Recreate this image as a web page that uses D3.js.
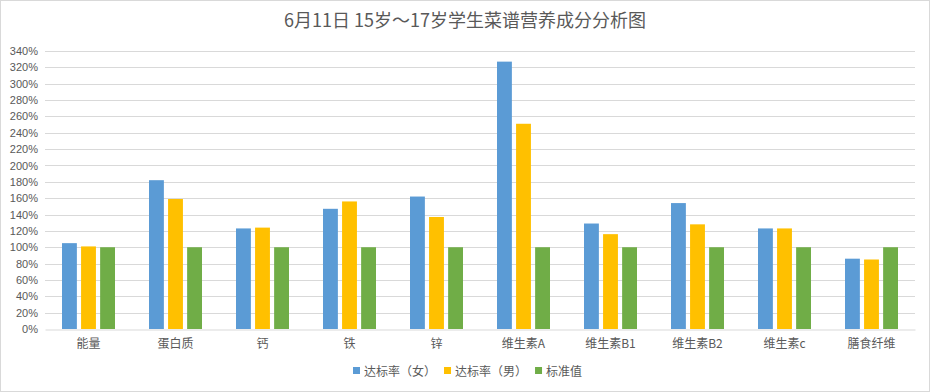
<!DOCTYPE html>
<html>
<head>
<meta charset="utf-8">
<script src="https://cdn.jsdelivr.net/npm/d3@7"></script>
<style>
  body { margin: 0; background: #fff; }
  text { font-family: "Noto Sans CJK SC", "Noto Sans", sans-serif; fill: #595959; }
</style>
</head>
<body>
<div id="chart"></div>
<script>
const categories = ["能量", "蛋白质", "钙", "铁", "锌", "维生素A", "维生素B1", "维生素B2", "维生素c", "膳食纤维"];
const seriesNames = ["达标率（女）", "达标率（男）", "标准值"];
const female = [105, 182, 123, 147, 162, 327, 129, 154, 123, 86];
const male = [101, 159, 124, 156, 137, 251, 116, 128, 123, 85];
const standard = [100, 100, 100, 100, 100, 100, 100, 100, 100, 100];
const yTicks = d3.range(0, 341, 20);
const colors = ["#5b9bd5", "#ffc000", "#70ad47"];

const W = 930, H = 392;
const margin = {top: 51, right: 15, bottom: 63, left: 45};
const width = W - margin.left - margin.right,
      height = H - margin.top - margin.bottom;

const svg = d3.select("#chart").append("svg")
    .attr("width", W)
    .attr("height", H);

// chart border
svg.append("rect")
    .attr("x", 0.5).attr("y", 0.5)
    .attr("width", W - 1).attr("height", H - 1)
    .attr("fill", "#fff")
    .attr("stroke", "#d9d9d9");

svg.append("text")
    .attr("x", W / 2)
    .attr("y", 27)
    .attr("text-anchor", "middle")
    .style("font-size", "18px")
    .text("6月11日 15岁～17岁学生菜谱营养成分分析图");

const g = svg.append("g")
    .attr("transform", `translate(${margin.left},${margin.top})`);

const x = d3.scaleBand()
    .domain(categories)
    .range([0, width])
    .paddingInner(0)
    .paddingOuter(0);

const x1 = d3.scaleBand()
    .domain(d3.range(3))
    .range([17, x.bandwidth() - 17])
    .paddingInner(0.22);

const y = d3.scaleLinear()
    .domain([0, 340])
    .range([height, 0]);

// grid lines
g.append("g")
    .selectAll("line")
    .data(yTicks.filter(d => d > 0))
    .enter().append("line")
    .attr("x1", 0).attr("x2", width)
    .attr("y1", d => Math.round(y(d)) + 0.5)
    .attr("y2", d => Math.round(y(d)) + 0.5)
    .attr("stroke", "#d9d9d9");

// y axis labels
const yAxis = g.append("g")
    .call(d3.axisLeft(y).tickValues(yTicks).tickFormat(d => d + "%").tickSize(0).tickPadding(7));
yAxis.select(".domain").remove();
yAxis.selectAll("text")
    .style("font-size", "11px")
    .style("font-family", "'Liberation Sans', sans-serif")
    .attr("fill", "#595959");

// bars
const series = [female, male, standard];
series.forEach(function(values, s) {
    g.selectAll(".s" + s)
        .data(values)
        .enter().append("rect")
        .attr("class", "s" + s)
        .attr("x", (d, i) => x(categories[i]) + x1(s))
        .attr("y", d => y(d))
        .attr("width", x1.bandwidth())
        .attr("height", d => y(0) - y(d))
        .attr("fill", colors[s]);
});

// x axis
const xAxis = g.append("g")
    .attr("transform", `translate(0,${Math.round(height) + 0.5})`)
    .call(d3.axisBottom(x).tickSize(0).tickPadding(10));
xAxis.select(".domain").attr("stroke", "#d9d9d9");
xAxis.selectAll("text")
    .style("font-size", "12px")
    .attr("fill", "#595959");

// legend
const legend = svg.append("g")
    .attr("transform", "translate(353,371)");
let lx = 0;
seriesNames.forEach(function(name, s) {
    const item = legend.append("g").attr("transform", `translate(${lx},0)`);
    item.append("rect")
        .attr("x", 0).attr("y", -4)
        .attr("width", 7).attr("height", 7)
        .attr("fill", colors[s]);
    const t = item.append("text")
        .attr("x", 11).attr("y", 4.5)
        .style("font-size", "12px")
        .text(name);
    lx += 11 + t.node().getComputedTextLength() + 8;
});
</script>
</body>
</html>
